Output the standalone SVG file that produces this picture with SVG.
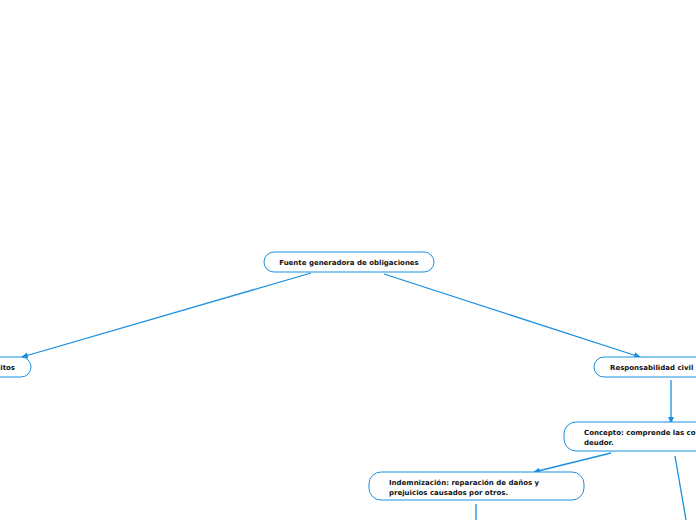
<svg xmlns="http://www.w3.org/2000/svg" width="696" height="520" viewBox="0 0 696 520">
<style>
.n{fill:#fff;stroke:#1a8fdf;stroke-width:1}
.t{font-family:"DejaVu Sans",Verdana,sans-serif;font-weight:bold;font-size:7px;fill:#111}
.c{stroke:#1a8fdf;stroke-width:1.3;fill:none}
</style>
<defs>
<marker id="a" markerWidth="8" markerHeight="8" refX="6" refY="4" orient="auto" markerUnits="userSpaceOnUse">
<path d="M0,1 L7,4 L0,7 Z" fill="#1a8fdf"/>
</marker>
</defs>
<g id="connectors">
<line class="c" x1="311" y1="273" x2="22" y2="357" marker-end="url(#a)"/>
<line class="c" x1="384" y1="274" x2="640" y2="357" marker-end="url(#a)"/>
<line class="c" x1="671" y1="380" x2="671" y2="423" marker-end="url(#a)"/>
<line class="c" x1="611" y1="453" x2="534" y2="472" marker-end="url(#a)"/>
<line class="c" x1="675" y1="456" x2="686" y2="520"/>
<line class="c" x1="476" y1="504" x2="476" y2="520"/>
</g>
<g id="root">
<rect class="n" x="264" y="252" width="170" height="20" rx="10"/>
<text class="t" x="349" y="264.5" text-anchor="middle">Fuente generadora de obligaciones</text>
</g>
<g id="left">
<rect class="n" x="-60" y="357" width="91" height="20" rx="10"/>
<text class="t" x="15" y="369.5" text-anchor="end">Delitos</text>
</g>
<g id="responsabilidad">
<rect class="n" x="594" y="357" width="140" height="20" rx="10"/>
<text class="t" x="610" y="369.5">Responsabilidad civil s</text>
</g>
<g id="concepto">
<rect class="n" x="564" y="422" width="170" height="29" rx="12"/>
<text class="t" x="584" y="435">Concepto: comprende las co</text>
<text class="t" x="584" y="445">deudor.</text>
</g>
<g id="indemnizacion">
<rect class="n" x="369" y="472" width="215" height="28" rx="12"/>
<text class="t" x="389" y="484.5">Indemnización: reparación de daños y</text>
<text class="t" x="389" y="494.5">prejuicios causados por otros.</text>
</g>
</svg>
